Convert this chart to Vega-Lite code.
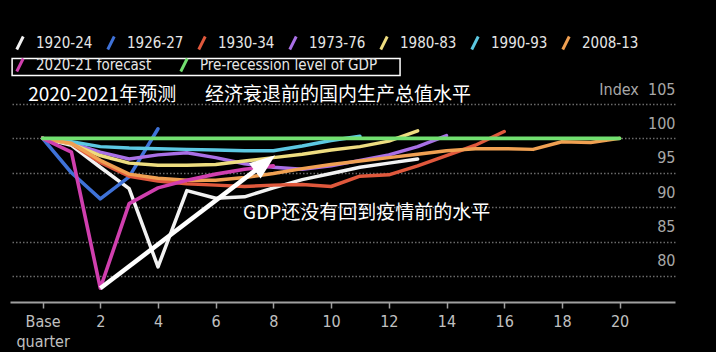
{
  "$schema": "https://vega.github.io/schema/vega-lite/v6.json",
  "width": 665,
  "height": 198,
  "autosize": {"type": "none"},
  "padding": {"left": 10, "top": 104, "right": 41, "bottom": 50},
  "background": "#000000",
  "config": {
    "view": {"stroke": null},
    "font": "DejaVu Sans Condensed, Liberation Sans, sans-serif",
    "axisX": {
      "grid": false,
      "domainColor": "#a0a0a0",
      "domainWidth": 2,
      "tickColor": "#a0a0a0",
      "tickSize": 6,
      "tickWidth": 1.5,
      "labelColor": "#c0c0c0",
      "labelFont": "DejaVu Sans Condensed, Liberation Sans, sans-serif",
      "labelFontSize": 16,
      "labelPadding": 5,
      "labelLineHeight": 20,
      "labelFlush": false,
      "labelOverlap": false
    },
    "axisY": {
      "grid": true,
      "gridColor": "#6a6a6a",
      "gridDash": [1.5, 2],
      "gridWidth": 1.5,
      "domain": false,
      "ticks": false,
      "labelColor": "#a8a8a8",
      "labelFont": "DejaVu Sans Condensed, Liberation Sans, sans-serif",
      "labelFontSize": 16,
      "labelFlush": false,
      "labelOverlap": false,
      "tickCount": 6
    },
    "legend": {
      "orient": "none",
      "direction": "horizontal",
      "gridAlign": "none",
      "symbolType": "M-0.5,1L0.5,-1",
      "symbolSize": 169,
      "symbolStrokeWidth": 3,
      "labelColor": "#e6e6e6",
      "labelFontSize": 15,
      "labelFont": "DejaVu Sans Condensed, Liberation Sans, sans-serif",
      "labelLimit": 400,
      "columnPadding": 8,
      "labelOffset": 8,
      "padding": 0
    }
  },
  "datasets": {
    "series": [
      {"s": "1920-24", "q": 0, "v": 100}, {"s": "1920-24", "q": 1, "v": 99.0}, {"s": "1920-24", "q": 2, "v": 95.8}, {"s": "1920-24", "q": 3, "v": 92.7}, {"s": "1920-24", "q": 4, "v": 81.3}, {"s": "1920-24", "q": 5, "v": 92.4}, {"s": "1920-24", "q": 6, "v": 91.3}, {"s": "1920-24", "q": 7, "v": 91.5}, {"s": "1920-24", "q": 8, "v": 92.8}, {"s": "1920-24", "q": 9, "v": 94.0}, {"s": "1920-24", "q": 10, "v": 94.9}, {"s": "1920-24", "q": 11, "v": 95.8}, {"s": "1920-24", "q": 12, "v": 96.4}, {"s": "1920-24", "q": 13, "v": 97.0},
      {"s": "1926-27", "q": 0, "v": 100}, {"s": "1926-27", "q": 1, "v": 95.0}, {"s": "1926-27", "q": 2, "v": 91.2}, {"s": "1926-27", "q": 3, "v": 94.4}, {"s": "1926-27", "q": 4, "v": 101.4},
      {"s": "1930-34", "q": 0, "v": 100}, {"s": "1930-34", "q": 1, "v": 99.2}, {"s": "1930-34", "q": 2, "v": 96.5}, {"s": "1930-34", "q": 3, "v": 94.5}, {"s": "1930-34", "q": 4, "v": 93.8}, {"s": "1930-34", "q": 5, "v": 93.4}, {"s": "1930-34", "q": 6, "v": 93.2}, {"s": "1930-34", "q": 7, "v": 93.0}, {"s": "1930-34", "q": 8, "v": 93.2}, {"s": "1930-34", "q": 9, "v": 93.3}, {"s": "1930-34", "q": 10, "v": 93.0}, {"s": "1930-34", "q": 11, "v": 94.5}, {"s": "1930-34", "q": 12, "v": 94.7}, {"s": "1930-34", "q": 13, "v": 96.0}, {"s": "1930-34", "q": 14, "v": 97.5}, {"s": "1930-34", "q": 15, "v": 99.0}, {"s": "1930-34", "q": 16, "v": 101.0},
      {"s": "1973-76", "q": 0, "v": 100}, {"s": "1973-76", "q": 1, "v": 99.3}, {"s": "1973-76", "q": 2, "v": 98.0}, {"s": "1973-76", "q": 3, "v": 97.0}, {"s": "1973-76", "q": 4, "v": 97.6}, {"s": "1973-76", "q": 5, "v": 97.9}, {"s": "1973-76", "q": 6, "v": 97.2}, {"s": "1973-76", "q": 7, "v": 96.3}, {"s": "1973-76", "q": 8, "v": 95.8}, {"s": "1973-76", "q": 9, "v": 95.5}, {"s": "1973-76", "q": 10, "v": 96.0}, {"s": "1973-76", "q": 11, "v": 96.8}, {"s": "1973-76", "q": 12, "v": 97.6}, {"s": "1973-76", "q": 13, "v": 98.8}, {"s": "1973-76", "q": 14, "v": 100.4},
      {"s": "1980-83", "q": 0, "v": 100}, {"s": "1980-83", "q": 1, "v": 99.2}, {"s": "1980-83", "q": 2, "v": 97.5}, {"s": "1980-83", "q": 3, "v": 96.4}, {"s": "1980-83", "q": 4, "v": 96.1}, {"s": "1980-83", "q": 5, "v": 96.1}, {"s": "1980-83", "q": 6, "v": 96.2}, {"s": "1980-83", "q": 7, "v": 96.7}, {"s": "1980-83", "q": 8, "v": 97.2}, {"s": "1980-83", "q": 9, "v": 97.7}, {"s": "1980-83", "q": 10, "v": 98.3}, {"s": "1980-83", "q": 11, "v": 98.8}, {"s": "1980-83", "q": 12, "v": 99.6}, {"s": "1980-83", "q": 13, "v": 101.1},
      {"s": "1990-93", "q": 0, "v": 100}, {"s": "1990-93", "q": 1, "v": 99.5}, {"s": "1990-93", "q": 2, "v": 98.8}, {"s": "1990-93", "q": 3, "v": 98.6}, {"s": "1990-93", "q": 4, "v": 98.5}, {"s": "1990-93", "q": 5, "v": 98.4}, {"s": "1990-93", "q": 6, "v": 98.3}, {"s": "1990-93", "q": 7, "v": 98.2}, {"s": "1990-93", "q": 8, "v": 98.2}, {"s": "1990-93", "q": 9, "v": 98.9}, {"s": "1990-93", "q": 10, "v": 99.7}, {"s": "1990-93", "q": 11, "v": 100.3},
      {"s": "2008-13", "q": 0, "v": 100}, {"s": "2008-13", "q": 1, "v": 99.3}, {"s": "2008-13", "q": 2, "v": 96.8}, {"s": "2008-13", "q": 3, "v": 94.8}, {"s": "2008-13", "q": 4, "v": 94.2}, {"s": "2008-13", "q": 5, "v": 93.9}, {"s": "2008-13", "q": 6, "v": 93.9}, {"s": "2008-13", "q": 7, "v": 94.3}, {"s": "2008-13", "q": 8, "v": 94.9}, {"s": "2008-13", "q": 9, "v": 95.6}, {"s": "2008-13", "q": 10, "v": 96.2}, {"s": "2008-13", "q": 11, "v": 96.7}, {"s": "2008-13", "q": 12, "v": 97.2}, {"s": "2008-13", "q": 13, "v": 97.7}, {"s": "2008-13", "q": 14, "v": 98.2}, {"s": "2008-13", "q": 15, "v": 98.5}, {"s": "2008-13", "q": 16, "v": 98.5}, {"s": "2008-13", "q": 17, "v": 98.4}, {"s": "2008-13", "q": 18, "v": 99.5}, {"s": "2008-13", "q": 19, "v": 99.4}, {"s": "2008-13", "q": 20, "v": 100},
      {"s": "2020-21 forecast", "q": 0, "v": 100}, {"s": "2020-21 forecast", "q": 1, "v": 98.0}, {"s": "2020-21 forecast", "q": 2, "v": 78.2}, {"s": "2020-21 forecast", "q": 3, "v": 90.5}, {"s": "2020-21 forecast", "q": 4, "v": 92.8}, {"s": "2020-21 forecast", "q": 5, "v": 93.9}, {"s": "2020-21 forecast", "q": 6, "v": 94.8}, {"s": "2020-21 forecast", "q": 7, "v": 95.5}, {"s": "2020-21 forecast", "q": 8, "v": 96.0},
      {"s": "Pre-recession level of GDP", "q": 0, "v": 100}, {"s": "Pre-recession level of GDP", "q": 20, "v": 100}
    ],
    "notes": [
      {"t": "2020-2021年预测", "q": -0.5, "v": 106.25},
      {"t": "经济衰退前的国内生产总值水平", "q": 5.63, "v": 106.25},
      {"t": "GDP还没有回到疫情前的水平", "q": 6.95, "v": 89.1}
    ],
    "arrow": [{"q": 2, "v": 78.2, "q2": 7.62, "v2": 96.12}],
    "box": [{"q": -1.057, "q2": 12.39, "v": 111.63, "v2": 109.16}]
  },
  "layer": [
    {
      "data": {"name": "series"},
      "transform": [{"filter": "datum.s != 'Pre-recession level of GDP' && datum.s != '2020-21 forecast'"}],
      "mark": {"type": "line", "strokeWidth": 3.5, "strokeJoin": "round", "strokeCap": "round"},
      "encoding": {
        "x": {
          "field": "q", "type": "quantitative", "title": null,
          "scale": {"domain": [-1.13, 21.92], "nice": false, "zero": false},
          "axis": {"values": [0, 2, 4, 6, 8, 10, 12, 14, 16, 18, 20], "labelOverlap": false, "labelExpr": "datum.value == 0 ? ['Base', 'quarter'] : datum.label"}
        },
        "y": {
          "field": "v", "type": "quantitative", "title": null,
          "scale": {"domain": [76.2, 105], "nice": false, "zero": false},
          "axis": {"orient": "right", "tickCount": 6, "tickMinStep": 5, "values": [80, 85, 90, 95, 100, 105], "labelOverlap": false, "labelAlign": "right", "labelPadding": 0, "labelBaseline": "bottom", "labelOffset": -7, "labelExpr": "datum.value == 105 ? 'Index\u00a0\u00a0105' : datum.label"}
        },
        "color": {
          "field": "s", "type": "nominal",
          "scale": {
            "domain": ["1920-24", "1926-27", "1930-34", "1973-76", "1980-83", "1990-93", "2008-13"],
            "range": ["#f2f2f2", "#3f72d8", "#e0583c", "#a970e6", "#eedd80", "#5cc8e2", "#f0a052"]
          },
          "legend": {"title": null, "legendX": 2, "legendY": -69, "columns": 7}
        },
        "order": {"field": "q", "type": "quantitative"}
      }
    },
    {
      "data": {"name": "series"},
      "transform": [{"filter": "datum.s == 'Pre-recession level of GDP' || datum.s == '2020-21 forecast'"}],
      "mark": {"type": "line", "strokeWidth": 3.6, "strokeJoin": "round", "strokeCap": "round"},
      "encoding": {
        "x": {"field": "q", "type": "quantitative", "title": null, "scale": {"domain": [-1.13, 21.92], "nice": false, "zero": false}},
        "y": {"field": "v", "type": "quantitative", "title": null, "axis": {"orient": "right"}, "scale": {"domain": [76.2, 105], "nice": false, "zero": false}},
        "stroke": {
          "field": "s", "type": "nominal",
          "scale": {"domain": ["2020-21 forecast", "Pre-recession level of GDP"], "range": ["#d03fae", "#72e070"]},
          "legend": {"title": null, "legendX": 2, "legendY": -47, "columns": 2, "columnPadding": 22}
        },
        "order": {"field": "q", "type": "quantitative"}
      }
    },
    {
      "data": {"name": "box"},
      "mark": {"type": "rect", "fill": null, "filled": false, "stroke": "#ffffff", "strokeWidth": 1.5},
      "encoding": {
        "x": {"field": "q", "type": "quantitative", "title": null},
        "x2": {"field": "q2"},
        "y": {"field": "v", "type": "quantitative", "title": null, "axis": {"orient": "right"}},
        "y2": {"field": "v2"}
      }
    },
    {
      "data": {"name": "arrow"},
      "mark": {"type": "rule", "color": "#ffffff", "strokeWidth": 4.5},
      "encoding": {
        "x": {"field": "q", "type": "quantitative", "title": null},
        "x2": {"field": "q2"},
        "y": {"field": "v", "type": "quantitative", "title": null, "axis": {"orient": "right"}},
        "y2": {"field": "v2"}
      }
    },
    {
      "data": {"name": "arrow"},
      "mark": {"type": "point", "shape": "M0,-1L0.6,0.6L-0.6,0.6Z", "filled": true, "color": "#ffffff", "opacity": 1, "size": 1024, "angle": 52.7},
      "encoding": {
        "x": {"field": "q2", "type": "quantitative", "title": null},
        "y": {"field": "v2", "type": "quantitative", "title": null, "axis": {"orient": "right"}}
      }
    },
    {
      "data": {"name": "notes"},
      "mark": {"type": "text", "align": "left", "baseline": "middle", "font": "Noto Sans CJK SC", "fontSize": 19, "color": "#ffffff"},
      "encoding": {
        "x": {"field": "q", "type": "quantitative", "title": null},
        "y": {"field": "v", "type": "quantitative", "title": null, "axis": {"orient": "right"}},
        "text": {"field": "t"}
      }
    }
  ]
}
